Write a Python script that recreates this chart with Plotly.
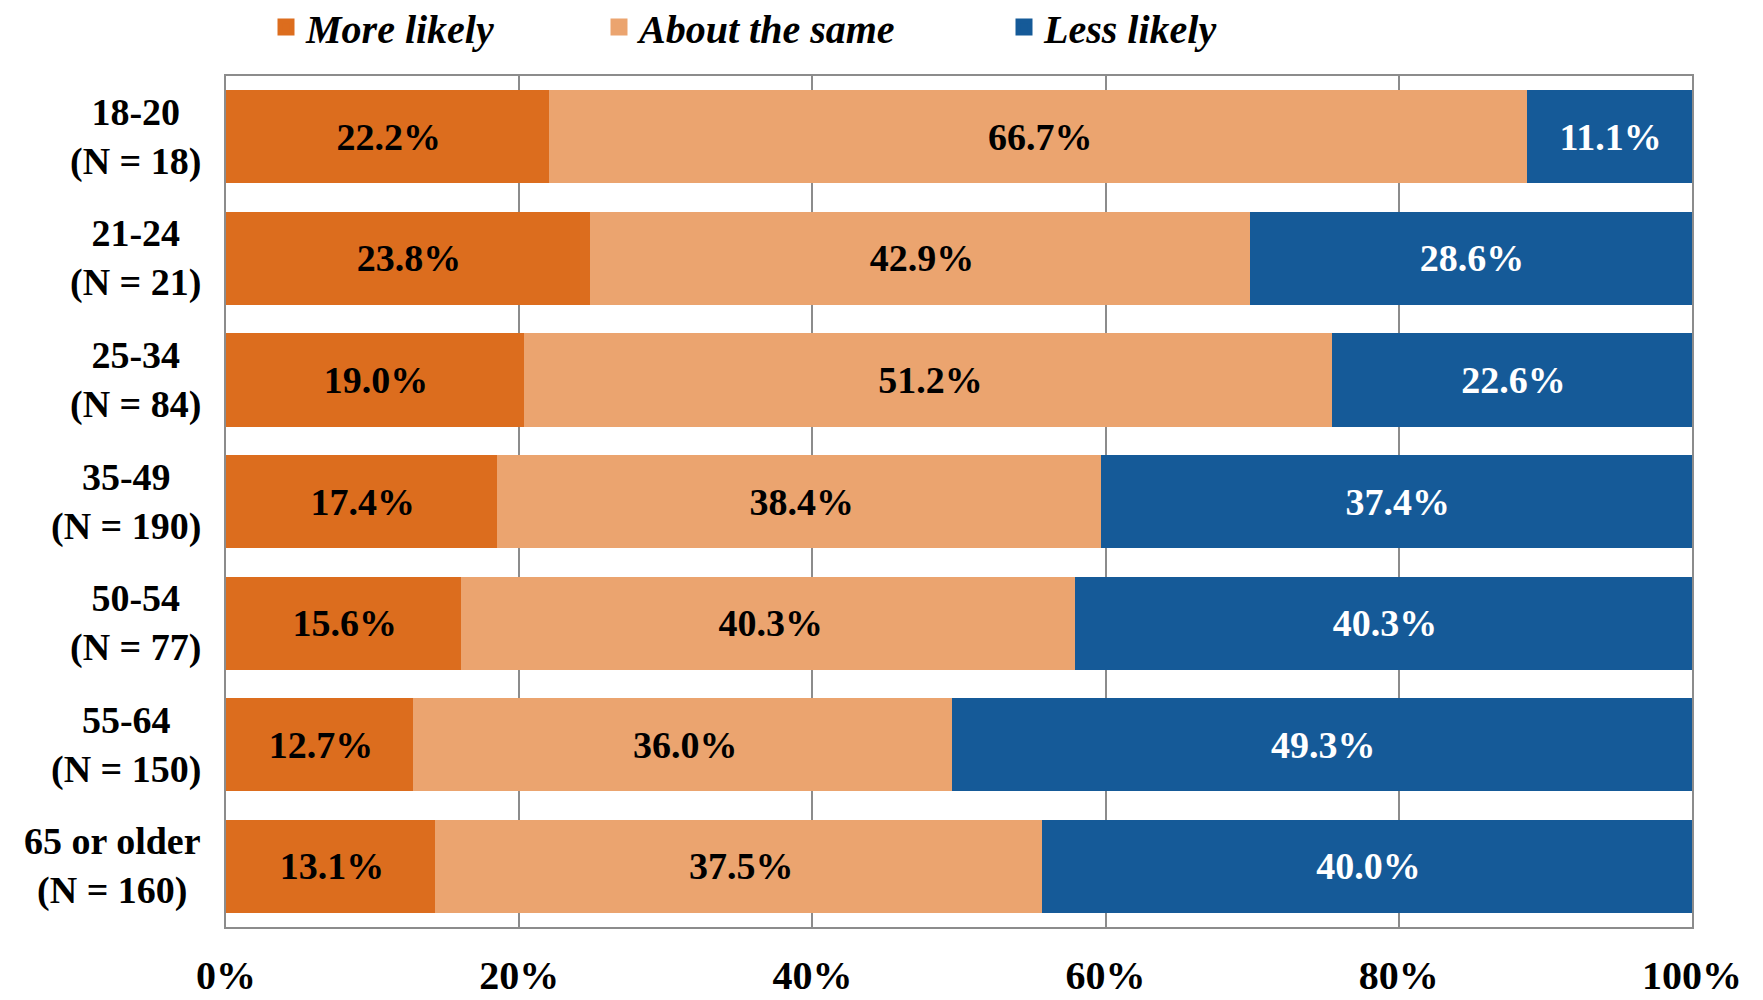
import plotly.graph_objects as go

categories = ["18-20", "21-24", "25-34", "35-49", "50-54", "55-64", "65 or older"]
sample_sizes = [18, 21, 84, 190, 77, 150, 160]
more_likely = [22.2, 23.8, 19.0, 17.4, 15.6, 12.7, 13.1]
about_same = [66.7, 42.9, 51.2, 38.4, 40.3, 36.0, 37.5]
less_likely = [11.1, 28.6, 22.6, 37.4, 40.3, 49.3, 40.0]
series_names = ["More likely", "About the same", "Less likely"]
x_ticks = [0, 20, 40, 60, 80, 100]

colors = ["#DC6D1E", "#EBA46F", "#155A98"]
text_colors = ["black", "black", "white"]
FONT = "Liberation Serif, Times New Roman, serif"

# page has an 8px body margin: figure is placed at (8, 8)
OFF = 8
W, H = 1763 - OFF, 1000 - OFF
ML, MR, MT, MB = 226 - OFF, 71, 76 - OFF, 73
plot_w = W - ML - MR
plot_h = H - MT - MB

fig = go.Figure()
legend_ids = ["legend", "legend2", "legend3"]
for name, vals, col, tcol, lg in zip(series_names, [more_likely, about_same, less_likely],
                                     colors, text_colors, legend_ids):
    fig.add_trace(go.Bar(
        y=categories, x=vals, name=name, orientation="h",
        marker=dict(color=col, line=dict(width=5, color=col)),
        text=[f"{v:.1f}%" for v in vals],
        textposition="inside", insidetextanchor="middle", textangle=0,
        textfont=dict(family=FONT, size=38, color=tcol, weight="bold"),
        legend=lg, hoverinfo="skip", cliponaxis=True,
    ))

# y labels as centered two-line blocks
for cat, n in zip(categories, sample_sizes):
    fig.add_annotation(
        x=0, xref="paper", y=cat, yref="y", xanchor="right", yanchor="middle",
        xshift=-23, align="center", showarrow=False,
        text=f"{cat}<br>(N = {n})",
        font=dict(family=FONT, size=38, color="black", weight="bold"),
    )

legend_symbol_center_px = [286, 619, 1024]  # page coords
legend_common = dict(
    orientation="h", yanchor="middle", xanchor="left",
    xref="container", yref="container",
    font=dict(family=FONT, size=40, color="black", weight="bold", style="italic"),
    bgcolor="rgba(0,0,0,0)", borderwidth=0, itemclick=False, itemdoubleclick=False,
)
legend_layout = {}
for lg, px in zip(legend_ids, legend_symbol_center_px):
    d = dict(legend_common)
    d["x"] = (px - OFF - 20) / W
    d["y"] = 1 - (27 - OFF) / H
    legend_layout[lg] = d

fig.update_layout(
    width=W, height=H,
    margin=dict(l=ML, r=MR, t=MT, b=MB, pad=0, autoexpand=False),
    barmode="stack", barnorm="percent", bargap=0.275,
    plot_bgcolor="white", paper_bgcolor="white",
    font=dict(family=FONT, color="black"),
    showlegend=True,
    **legend_layout,
)
fig.update_xaxes(
    range=[0, 100], tickvals=x_ticks, ticktext=[f"{t}%" for t in x_ticks],
    showgrid=True, gridcolor="#8C8C8C", gridwidth=1.5,
    showline=True, linecolor="#8C8C8C", linewidth=2, mirror=True,
    ticks="", ticklabelstandoff=12, zeroline=False, automargin=False,
    tickfont=dict(family=FONT, size=40, color="black", weight="bold"),
)
fig.update_yaxes(
    categoryorder="array", categoryarray=categories, autorange="reversed",
    showticklabels=False, showgrid=False, automargin=False,
    showline=True, linecolor="#8C8C8C", linewidth=2, mirror=True, ticks="",
)

fig.write_html("out.html")
